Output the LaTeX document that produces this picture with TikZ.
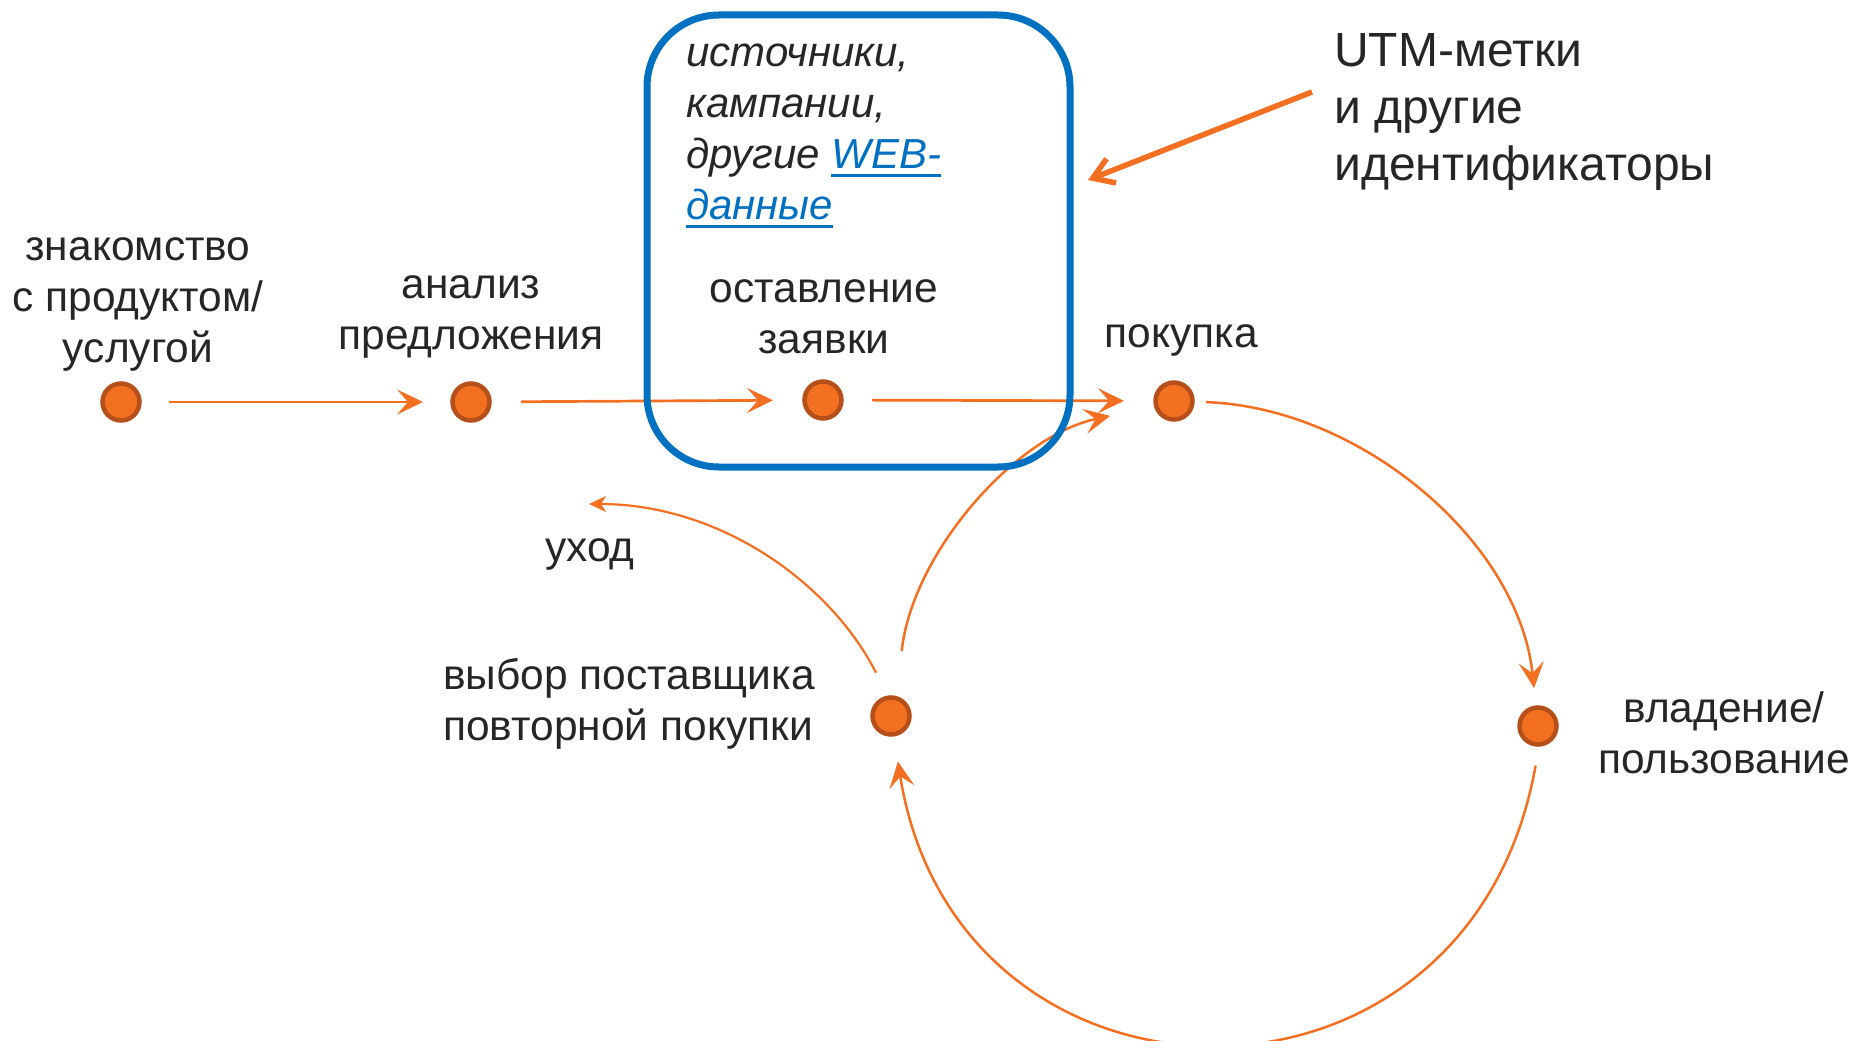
\documentclass[tikz,border=0pt]{standalone}
\usepackage{fontspec}
\setmainfont{Liberation Sans}
\usetikzlibrary{arrows.meta}
\definecolor{orng}{HTML}{F36F21}
\definecolor{dotfill}{HTML}{F47021}
\definecolor{dotedge}{HTML}{B5501B}
\definecolor{boxblue}{HTML}{0070C0}
\definecolor{txt}{HTML}{262626}
\newcommand\weblink[1]{\textcolor{boxblue}{\setbox0=\hbox{#1}\rlap{\rule[-8pt]{\wd0}{3pt}}\box0}}
\begin{document}
\begin{tikzpicture}[x=1pt,y=1pt,
  dot/.style={circle, fill=dotfill, draw=dotedge, line width=4.5pt, minimum size=37pt, inner sep=0pt, outer sep=0pt},
  lbl/.style={font=\fontsize{42.5}{51}\selectfont, text=txt, align=center, inner sep=0pt},
  bigtip/.style={-{Stealth[length=26pt,width=25pt,inset=11pt]}},
  flow/.style={draw=orng, line width=2.7pt, bigtip},
  cyc/.style={draw=orng, line width=2.5pt, bigtip},
  leave/.style={draw=orng, line width=2.2pt, -{Stealth[length=17pt,width=16pt,inset=5pt]}},
  utmarrow/.style={draw=orng, line width=5.5pt, -{Straight Barb[length=20pt,width=26pt]}},
  frame/.style={draw=boxblue, line width=7pt, rounded corners=72pt, inner sep=0pt}]
\useasboundingbox (0,0) rectangle (1856,-1041);

% dots
\node[dot] (d1) at (121,-402) {};
\node[dot] (d2) at (471,-402) {};
\node[dot] (d3) at (823,-400) {};
\node[dot] (d4) at (1174,-401) {};
\node[dot] (d5) at (1538,-726) {};
\node[dot] (d6) at (891,-716) {};

% labels
\node[lbl] (zn) at (138,-304) {знакомство\\с продуктом/\\услугой};
\node[lbl] (an) at (471,-317) {анализ\\предложения};
\node[lbl] (os) at (824,-317) {оставление\\заявки};
\node[lbl] (pk) at (1181,-340) {покупка};
\node[lbl] (uxlbl) at (590,-554) {уход};
\node[lbl, align=left, anchor=west] (vy) at (443,-703.5) {выбор поставщика\\повторной покупки};
\node[lbl] (vl) at (1724,-733) {владение/\\пользование};
\node[lbl, font=\fontsize{48}{57}\selectfont, align=left, anchor=west] (utm) at (1334,-111.5) {UTM-метки\\и другие\\идентификаторы};
\node[lbl, font=\fontsize{42}{51}\selectfont\itshape, align=left, anchor=west] (src) at (686,-136)
  {источники,\\кампании,\\другие \weblink{WEB-}\\\weblink{данные}};

% coordinates for free ends
\coordinate (uxtip) at (589,-504);
\coordinate (utms) at (1312,-92);
\coordinate (utmt) at (1088,-180);

% main flow
\draw[flow, shorten <=29.5pt, shorten >=29.5pt] (d1) -- (d2);
\draw[flow, shorten <=31.5pt, shorten >=31.5pt] (d2) -- (d3);
\draw[flow, shorten <=30.5pt, shorten >=31.5pt] (d3) -- (d4);

% cycle
\draw[cyc, shorten <=13.5pt, shorten >=19.5pt] (d4.-2) to[out=-2, in=96, looseness=0.93] (d5.96);
\draw[cyc, shorten <=21.5pt, shorten >=27.5pt] (d5.-86) to[out=-100, in=-81, looseness=1.6] (d6.-82);
\draw[cyc, shorten <=47.5pt, shorten >=47pt] (d6.72) to[out=84, in=192, looseness=0.95] (d4.196);
\draw[leave, shorten <=28pt] (d6.97) to[out=117, in=0, looseness=0.93] (uxtip);

% frame
\node[frame, minimum width=423pt, minimum height=452pt] (box) at (858.5,-241) {};

% UTM arrow
\draw[utmarrow] (utms) -- (utmt);
\end{tikzpicture}
\end{document}
